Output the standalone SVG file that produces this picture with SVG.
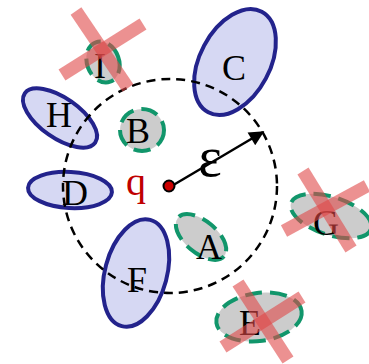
<svg xmlns="http://www.w3.org/2000/svg" width="369" height="364" viewBox="0 0 369 364">
<style>
.blue{fill:#d6d8f3;stroke:#23238c;stroke-width:4}
.gray{fill:#cccccc;stroke:#11966b;stroke-width:4;stroke-dasharray:17 8}
.lbl{font-family:"Liberation Serif","DejaVu Serif",serif;font-size:36px;fill:#000;text-anchor:middle}
.x{stroke:#e04848;stroke-opacity:0.6;stroke-width:13;fill:none}
</style>
<defs>
<marker id="ah" viewBox="0 0 10 10" refX="9" refY="5" markerWidth="7.5" markerHeight="6" markerUnits="strokeWidth" orient="auto">
<path d="M0,0 L10,5 L0,10 z" fill="#000"/>
</marker>
</defs>
<rect width="369" height="364" fill="#fff"/>
<g id="node-C"><ellipse class="blue" cx="235" cy="62" rx="57" ry="35" transform="rotate(-62 235 62)"/><text class="lbl" x="234" y="80">C</text></g>
<g id="node-H"><ellipse class="blue" cx="60" cy="118" rx="43" ry="20" transform="rotate(35 60 118)"/><text class="lbl" x="59" y="127">H</text></g>
<g id="node-D"><ellipse class="blue" cx="70" cy="190" rx="42" ry="18" transform="rotate(3 70 190)"/><text class="lbl" x="75" y="205">D</text></g>
<g id="node-F"><ellipse class="blue" cx="136" cy="273" rx="55" ry="31" transform="rotate(-75 136 273)"/><text class="lbl" x="137" y="292">F</text></g>
<circle cx="170" cy="186" r="107" fill="none" stroke="#000" stroke-width="2.5" stroke-dasharray="9 6"/>
<g id="node-B"><ellipse class="gray" cx="142" cy="130" rx="22" ry="21"/><text class="lbl" x="138" y="143">B</text></g>
<g id="node-A"><ellipse class="gray" cx="201" cy="237" rx="30" ry="16" transform="rotate(40 201 237)"/><text class="lbl" x="209" y="259">A</text></g>
<g id="node-I"><ellipse class="gray" cx="103" cy="62" rx="16" ry="21" transform="rotate(-20 103 62)"/><text class="lbl" x="100" y="78">I</text><line class="x" x1="76" y1="11" x2="128" y2="88"/><line class="x" x1="62" y1="75" x2="143" y2="24"/></g>
<g id="node-G"><ellipse class="gray" cx="331" cy="216" rx="42" ry="19" transform="rotate(18 331 216)"/><text class="lbl" x="326" y="235">G</text><line class="x" x1="303" y1="171" x2="351" y2="249"/><line class="x" x1="284" y1="231" x2="367" y2="186"/></g>
<g id="node-E"><ellipse class="gray" cx="259" cy="317" rx="43" ry="24" transform="rotate(-8 259 317)"/><text class="lbl" x="250" y="335">E</text><line class="x" x1="238" y1="283" x2="288" y2="360"/><line class="x" x1="223" y1="347" x2="302" y2="297"/></g>
<g id="connectors">
<line x1="170" y1="187" x2="263" y2="132" stroke="#000" stroke-width="2.5" marker-end="url(#ah)"/>
<text x="210" y="176" font-family="Liberation Serif,DejaVu Serif,serif" font-size="56" text-anchor="middle" fill="#000">ε</text>
</g>
<g id="node-q"><circle cx="169" cy="186" r="5.5" fill="#cc0000" stroke="#000" stroke-width="2"/><text x="136" y="195" font-family="Liberation Serif,DejaVu Serif,serif" font-size="40" text-anchor="middle" fill="#c00000">q</text></g>
</svg>
